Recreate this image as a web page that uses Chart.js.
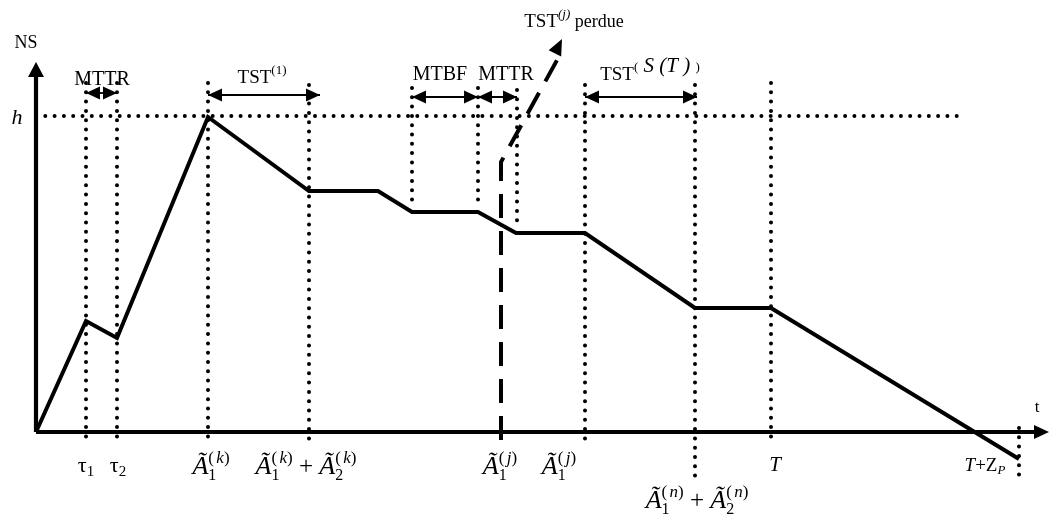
<!DOCTYPE html>
<html>
<head>
<meta charset="utf-8">
<script src="https://cdn.jsdelivr.net/npm/chart.js@4/dist/chart.umd.min.js"></script>
<style>
  html, body { margin: 0; padding: 0; background: #fff; }
  #wrap { width: 1049px; height: 516px; }
</style>
</head>
<body>
<div id="wrap"><canvas id="stockChart" width="1049" height="516"></canvas></div>
<script>
// stock level NS over time t (schematic units)
const stockT  = [0, 5.0, 8.1, 17.2, 27.3, 34.2, 37.6, 44.2, 48.0, 54.9, 65.9, 73.5, 98.3];
const stockNS = [0, 11.1, 9.4, 31.5, 24.1, 24.1, 22.0, 22.0, 19.9, 19.9, 12.4, 12.4, -2.7];

// lost TST(j) branch (dashed)
const lostT  = [46.5, 46.5, 52.6];
const lostNS = [-0.8, 27.0, 39.3];

// threshold h
const hLevel = 31.6;
const hEnd = 93.0;

// vertical reference marks: time, top, bottom
const markT   = [5.0, 8.1, 17.2, 27.3, 37.6, 44.2, 48.1, 54.9, 65.9, 73.5, 98.3];
const markTop = [34.9, 34.9, 34.9, 34.7, 34.4, 34.4, 34.2, 34.7, 34.7, 34.9, 0.4];
const markBot = [-0.8, -0.8, -0.8, -0.9, 22.4, 22.4, 20.3, -0.8, -4.6, -0.6, -4.5];

// interval arrows above the chart: from, to, level
const spanFrom  = [5.0, 17.2, 37.6, 44.2, 54.9];
const spanTo    = [8.1, 28.4, 44.2, 48.1, 66.1];
const spanLevel = [33.9, 33.7, 33.5, 33.5, 33.5];

const serif = '"Liberation Serif", "DejaVu Serif", serif';
const F = (size, italic) => (italic ? 'italic ' : '') + size + 'px ' + serif;

function pts(xs, ys) {
  return xs.map((x, i) => ({ x: x, y: ys[i] }));
}

function markPoints() {
  const out = [];
  markT.forEach((t, i) => {
    out.push({ x: t, y: markTop[i] }, { x: t, y: markBot[i] }, { x: t, y: null });
  });
  return out;
}

// rich text pieces: [text, font, dy, stack]
const Atil = (sub, sup) => [
  ['Ã', F(26, true), 0],
  [sub, F(16), 6],
  ['(', F(17), -11, true],
  [sup, F(17, true), -11],
  [')', F(17), -11]
];

const labels = [
  { x: -1.0, y: 38.4, parts: [['NS', F(18)]] },
  { x: -1.9, y: 30.8, parts: [['h', F(22, true)]] },
  { x: 6.6, y: 34.7, parts: [['MTTR', F(20)]] },
  { x: 22.6, y: 34.9, parts: [['TST', F(19)], ['(1)', F(13), -9]] },
  { x: 40.4, y: 35.2, parts: [['MTBF', F(20)]] },
  { x: 47.0, y: 35.2, parts: [['MTTR', F(20)]] },
  { x: 61.4, y: 35.2, parts: [['TST', F(19)], ['(', F(13), -9], [' S (T ) ', F(21, true), -8], [')', F(13), -9]] },
  { x: 53.8, y: 40.5, parts: [['TST', F(19)], ['(j)', F(13, true), -9], [' perdue', F(18)]] },
  { x: 100.1, y: 2.0, parts: [['t', F(17)]] },
  { x: 5.0, y: -4.0, parts: [['τ', F(22)], ['1', F(15), 4]] },
  { x: 8.2, y: -4.0, parts: [['τ', F(22)], ['2', F(15), 4]] },
  { x: 17.5, y: -4.2, parts: Atil('1', 'k') },
  { x: 27.0, y: -4.2, parts: Atil('1', 'k').concat([[' + ', F(25)]], Atil('2', 'k')) },
  { x: 46.4, y: -4.2, parts: Atil('1', 'j') },
  { x: 52.3, y: -4.2, parts: Atil('1', 'j') },
  { x: 73.9, y: -3.9, parts: [['T', F(21, true)]] },
  { x: 94.9, y: -3.9, parts: [['T', F(19, true)], ['+Z', F(19)], ['P', F(13, true), 3]] },
  { x: 66.1, y: -7.6, parts: Atil('1', 'n').concat([[' + ', F(25)]], Atil('2', 'n')) }
];

function drawRich(ctx, cx, base, parts) {
  let end = 0, prevStart = 0;
  const placed = parts.map(p => {
    ctx.font = p[1];
    const w = ctx.measureText(p[0]).width;
    const sx = p[3] ? prevStart : end;
    prevStart = sx;
    end = Math.max(end, sx + w);
    return { t: p[0], font: p[1], dy: p[2] || 0, x: sx };
  });
  const left = cx - end / 2;
  placed.forEach(p => {
    ctx.font = p.font;
    ctx.fillText(p.t, left + p.x, base + p.dy);
  });
}

function head(ctx, tx, ty, fx, fy, len, half) {
  const a = Math.atan2(ty - fy, tx - fx);
  ctx.beginPath();
  ctx.moveTo(tx, ty);
  ctx.lineTo(tx - len * Math.cos(a) + half * Math.sin(a), ty - len * Math.sin(a) - half * Math.cos(a));
  ctx.lineTo(tx - len * Math.cos(a) - half * Math.sin(a), ty - len * Math.sin(a) + half * Math.cos(a));
  ctx.closePath();
  ctx.fill();
}

const annotate = {
  id: 'annotate',
  afterDatasetsDraw(chart) {
    const ctx = chart.ctx;
    const xs = chart.scales.x, ys = chart.scales.y;
    const px = v => xs.getPixelForValue(v), py = v => ys.getPixelForValue(v);
    ctx.save();
    ctx.fillStyle = '#000';
    ctx.strokeStyle = '#000';

    // axis arrowheads
    head(ctx, px(0), py(37.0), px(0), py(0), 15, 8);
    head(ctx, px(101.3), py(0), px(0), py(0), 15, 7);
    // lost branch arrowhead
    head(ctx, px(lostT[2]), py(lostNS[2]), px(lostT[1]), py(lostNS[1]), 16, 7);

    // interval arrows
    ctx.lineWidth = 1.8;
    spanFrom.forEach((a, i) => {
      const b = spanTo[i], y = py(spanLevel[i]);
      ctx.beginPath();
      ctx.moveTo(px(a), y);
      ctx.lineTo(px(b), y);
      ctx.stroke();
      head(ctx, px(a), y, px(b), y, 14, 6.5);
      head(ctx, px(b), y, px(a), y, 14, 6.5);
    });

    ctx.textBaseline = 'alphabetic';
    labels.forEach(l => drawRich(ctx, px(l.x), py(l.y), l.parts));
    ctx.restore();
  }
};

new Chart(document.getElementById('stockChart'), {
  type: 'scatter',
  data: {
    datasets: [
      {
        data: markPoints(),
        showLine: true, borderColor: '#000', borderWidth: 4,
        borderDash: [0, 9.3], borderCapStyle: 'round', spanGaps: false
      },
      {
        data: pts([0, hEnd], [hLevel, hLevel]),
        showLine: true, borderColor: '#000', borderWidth: 4,
        borderDash: [0, 9.3], borderCapStyle: 'round'
      },
      {
        data: pts([0, 0, null, 0, 100], [36, 0, null, 0, 0]),
        showLine: true, borderColor: '#000', borderWidth: 4.2, spanGaps: false
      },
      {
        data: pts(stockT, stockNS),
        showLine: true, borderColor: '#000', borderWidth: 4, borderJoinStyle: 'miter'
      },
      {
        data: pts(lostT, lostNS.map((v, i) => i === 2 ? v - 1.2 : v)),
        showLine: true, borderColor: '#000', borderWidth: 4, borderDash: [24, 13]
      }
    ]
  },
  options: {
    responsive: false,
    animation: false,
    layout: { padding: 0 },
    elements: { point: { radius: 0, hoverRadius: 0 }, line: { tension: 0 } },
    plugins: { legend: { display: false }, tooltip: { enabled: false } },
    scales: {
      x: { type: 'linear', display: false, min: -3.6, max: 101.3 },
      y: { type: 'linear', display: false, min: -8.4, max: 43.2 }
    }
  },
  plugins: [annotate]
});
</script>
</body>
</html>
